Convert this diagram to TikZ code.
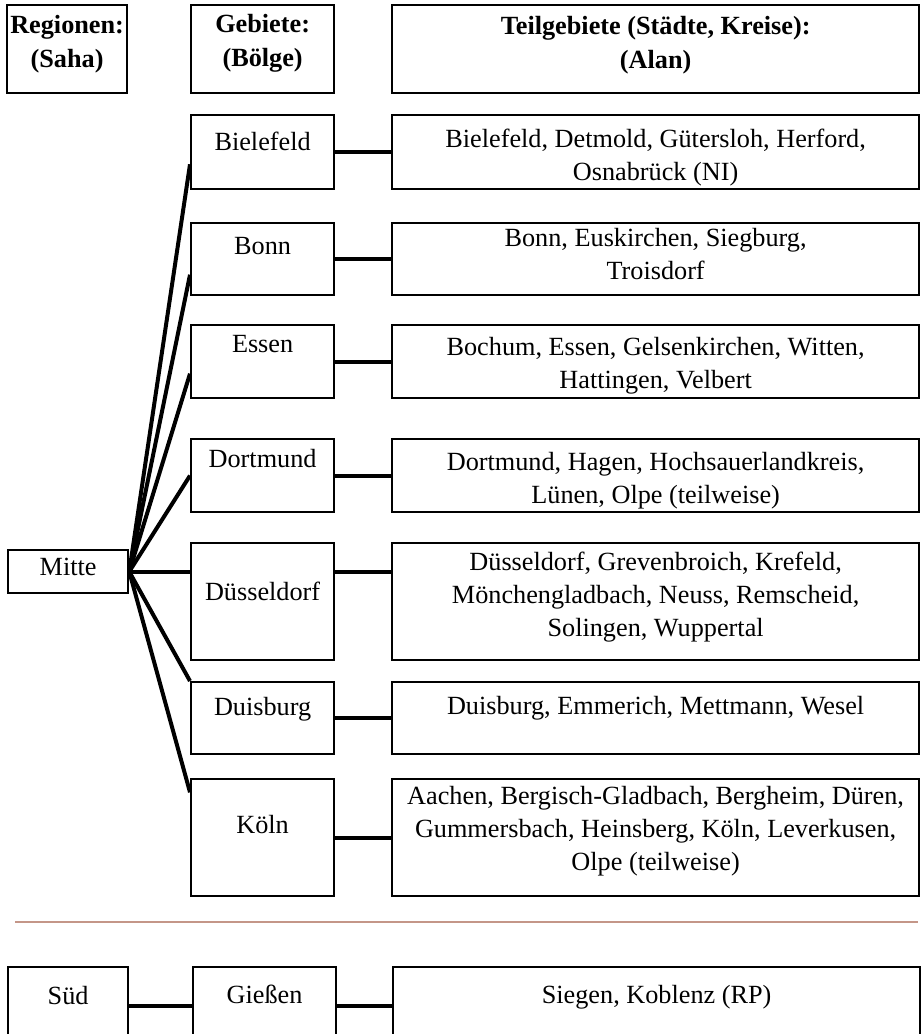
\documentclass[tikz,border=0pt]{standalone}
\usepackage{fontspec}
\setmainfont{Liberation Serif}
\usetikzlibrary{positioning,calc}
\definecolor{trenn}{RGB}{196,150,136}

\begin{document}
\begin{tikzpicture}[x=0.03cm, y=-0.03cm,
  box/.style={draw, line width=1.9pt, inner sep=0pt, anchor=north west},
  rbox/.style={box, minimum width=3.6cm},
  gbox/.style={box, minimum width=4.29cm},
  tbox/.style={box, minimum width=15.81cm},
  txt/.style={align=center, inner sep=0pt, anchor=north, font=\fontsize{22.4}{28.2}\selectfont},
  kopf/.style={txt, font=\fontsize{22.4}{28.8}\selectfont\bfseries},
  verb/.style={line width=3.4pt}]
\clip (0,0) rectangle (921,1034);
\node[rbox, minimum height=2.64cm] (reg) at (6,4) {};
\node[gbox, minimum height=2.64cm] (geb) at (190,4) {};
\node[tbox, minimum height=2.64cm] (teil) at (391,4) {};
\node[kopf, below=0.33cm of reg.north] (lreg) {Regionen:\\(Saha)};
\node[kopf, below=0.3cm of geb.north] (lgeb) {Gebiete:\\(Bölge)};
\node[kopf, below=0.36cm of teil.north] (lteil) {Teilgebiete (Städte, Kreise):\\(Alan)};

\node[rbox, minimum height=1.29cm] (mi) at (7,549) {};
\node[txt, below=0.27cm of mi.north] (lmi) {Mitte};

\node[gbox, minimum height=2.22cm] (bi) at (190,114) {};
\node[gbox, minimum height=2.16cm] (bo) at (190,222) {};
\node[gbox, minimum height=2.19cm] (es) at (190,324) {};
\node[gbox, minimum height=2.19cm] (do) at (190,438) {};
\node[gbox, minimum height=3.51cm] (du) at (190,542) {};
\node[gbox, minimum height=2.16cm] (db) at (190,681) {};
\node[gbox, minimum height=3.51cm] (ko) at (190,778) {};
\node[txt, below=0.54cm of bi.north] (lbi) {Bielefeld};
\node[txt, below=0.45cm of bo.north] (lbo) {Bonn};
\node[txt, below=0.33cm of es.north] (les) {Essen};
\node[txt, below=0.33cm of do.north] (ldo) {Dortmund};
\node[txt, below=1.2cm of du.north] (ldu) {Düsseldorf};
\node[txt, below=0.48cm of db.north] (ldb) {Duisburg};
\node[txt, below=1.11cm of ko.north] (lko) {Köln};

\node[tbox, minimum height=2.22cm] (tbi) at (391,114) {};
\node[tbox, minimum height=2.16cm] (tbo) at (391,222) {};
\node[tbox, minimum height=2.19cm] (tes) at (391,324) {};
\node[tbox, minimum height=2.19cm] (tdo) at (391,438) {};
\node[tbox, minimum height=3.51cm] (tdu) at (391,542) {};
\node[tbox, minimum height=2.16cm] (tdb) at (391,681) {};
\node[tbox, minimum height=3.51cm] (tko) at (391,778) {};
\node[txt, below=0.45cm of tbi.north] (ltbi) {Bielefeld, Detmold, Gütersloh, Herford,\\Osnabrück (NI)};
\node[txt, below=0.18cm of tbo.north] (ltbo) {Bonn, Euskirchen, Siegburg,\\Troisdorf};
\node[txt, below=0.39cm of tes.north] (ltes) {Bochum, Essen, Gelsenkirchen, Witten,\\Hattingen, Velbert};
\node[txt, below=0.42cm of tdo.north] (ltdo) {Dortmund, Hagen, Hochsauerlandkreis,\\Lünen, Olpe (teilweise)};
\node[txt, below=0.3cm of tdu.north] (ltdu) {Düsseldorf, Grevenbroich, Krefeld,\\Mönchengladbach, Neuss, Remscheid,\\Solingen, Wuppertal};
\node[txt, below=0.45cm of tdb.north] (ltdb) {Duisburg, Emmerich, Mettmann, Wesel};
\node[txt, below=0.24cm of tko.north] (ltko) {Aachen, Bergisch-Gladbach, Bergheim, Düren,\\Gummersbach, Heinsberg, Köln, Leverkusen,\\Olpe (teilweise)};

\draw[verb] (mi.east) -- ($(bi.north west)!.66!(bi.south west)$);
\draw[verb] (mi.east) -- ($(bo.north west)!.71!(bo.south west)$);
\draw[verb] (mi.east) -- ($(es.north west)!.66!(es.south west)$);
\draw[verb] (mi.east) -- (do.west);
\draw[verb] (mi.east) -- (mi.east -| du.west);
\draw[verb] (mi.east) -- (db.north west);
\draw[verb] (mi.east) -- ($(ko.north west)!.12!(ko.south west)$);

\draw[verb] (bi.east) -- (tbi.west);
\draw[verb] (bo.east) -- (tbo.west);
\draw[verb] (es.east) -- (tes.west);
\draw[verb] (do.east) -- (tdo.west);
\draw[verb] (mi.east -| du.east) -- (mi.east -| tdu.west);
\draw[verb] (db.east) -- (tdb.west);
\draw[verb] (ko.east) -- (tko.west);

\draw[trenn, line width=1.4pt] (15,922) -- (918,922);

\node[rbox, minimum height=2.34cm] (sd) at (7,966) {};
\node[gbox, minimum height=2.34cm] (gi) at (192,966) {};
\node[tbox, minimum height=2.34cm] (tsi) at (392,966) {};
\node[txt, below=0.6cm of sd.north] (lsd) {Süd};
\node[txt, below=0.57cm of gi.north] (lgi) {Gießen};
\node[txt, below=0.57cm of tsi.north] (ltsi) {Siegen, Koblenz (RP)};
\draw[verb] (sd.east) -- (gi.west);
\draw[verb] (gi.east) -- (tsi.west);
\end{tikzpicture}
\end{document}
